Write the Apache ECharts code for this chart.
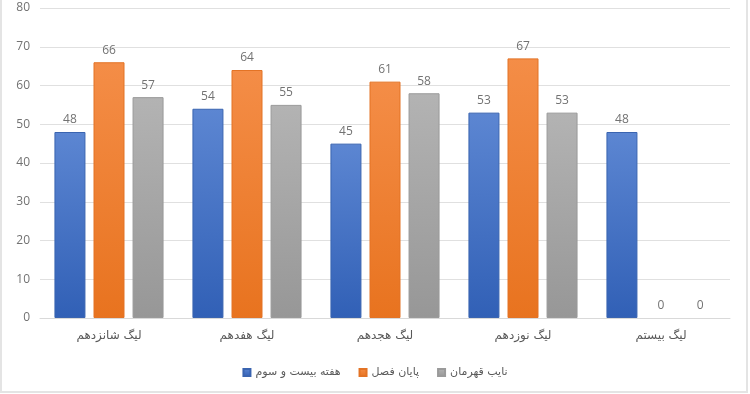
<!DOCTYPE html>
<html><head><meta charset="utf-8">
<script src="https://cdn.jsdelivr.net/npm/echarts@6/dist/echarts.min.js"></script>
<style>
html,body{margin:0;padding:0;background:#fff;}
#wrap{position:relative;width:750px;height:394px;}
#c{width:750px;height:394px;}
#frame{position:absolute;left:0;top:0;width:748px;height:393px;box-sizing:border-box;border:2px solid #e4e4e4;border-top:none;pointer-events:none;}
</style></head>
<body><div id="wrap"><div id="c"></div><div id="frame"></div></div>
<script>
const categories = ['لیگ شانزدهم','لیگ هفدهم','لیگ هجدهم','لیگ نوزدهم','لیگ بیستم'];
const seriesNames = ['هفته بیست و سوم','پایان فصل','نایب قهرمان'];
const week23 = [48,54,45,53,48];
const seasonEnd = [66,64,61,67,0];
const runnerUp = [57,55,58,53,0];
const yTicks = {min:0,max:80,interval:10};

function grad(top,bottom){
  return new echarts.graphic.LinearGradient(0,0,0,1,[{offset:0,color:top},{offset:1,color:bottom}]);
}
const styles = [
  {fill:grad('#5c86d2','#3160b6'), border:'#3a64b0'},
  {fill:grad('#f48d47','#e8731f'), border:'#e37325'},
  {fill:grad('#b3b3b3','#979797'), border:'#9a9a9a'}
];
const dataSets = [week23, seasonEnd, runnerUp];
const chart = echarts.init(document.getElementById('c'));
chart.setOption({
  animation:false,
  textStyle:{fontFamily:'DejaVu Sans'},
  grid:{left:40,right:20,top:8,bottom:76},
  legend:{
    bottom:11,left:'center',itemWidth:7,itemHeight:7,itemGap:18,icon:'rect',
    textStyle:{fontFamily:'DejaVu Sans',fontSize:11,color:'#595959'},
    data:seriesNames
  },
  xAxis:{
    type:'category',data:categories,
    axisLine:{lineStyle:{color:'#d9d9d9'}},axisTick:{show:false},
    axisLabel:{color:'#595959',fontSize:12,margin:12,fontFamily:'DejaVu Sans'}
  },
  yAxis:{
    type:'value',min:yTicks.min,max:yTicks.max,interval:yTicks.interval,
    axisLine:{show:false},axisTick:{show:false},
    splitLine:{lineStyle:{color:'#e0e0e0'}},
    axisLabel:{color:'#727272',fontSize:12,margin:10,fontFamily:'Open Sans'}
  },
  series: dataSets.map((d,i)=>({
    name:seriesNames[i],type:'bar',barWidth:31,barGap:'26%',
    data:d.map(v=> v===0 ? {value:v,itemStyle:{borderWidth:0}} : v),
    itemStyle:{color:styles[i].fill,borderColor:styles[i].border,borderWidth:1},
    label:{show:true,position:'top',distance:6,color:'#727272',fontSize:12,fontFamily:'Open Sans'}
  }))
});
</script></body></html>
